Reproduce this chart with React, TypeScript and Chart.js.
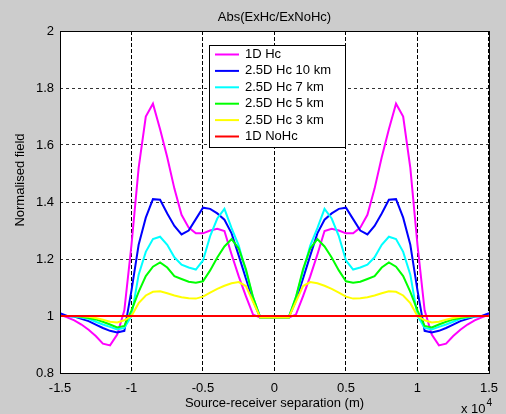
import React, { useEffect, useRef } from "react";
import { Chart, registerables } from "chart.js";

Chart.register(...registerables);

// Source-receiver separation (m)
const separations = [
  -15000, -14500, -14000, -13500, -13000, -12500, -12000, -11500, -11000, -10500,
  -10000, -9500, -9000, -8500, -8000, -7500, -7000, -6500, -6000, -5500,
  -5000, -4500, -4000, -3500, -3000, -2500, -2000, -1500, -1000, -500,
  0,
  500, 1000, 1500, 2000, 2500, 3000, 3500, 4000, 4500, 5000,
  5500, 6000, 6500, 7000, 7500, 8000, 8500, 9000, 9500, 10000,
  10500, 11000, 11500, 12000, 12500, 13000, 13500, 14000, 14500, 15000,
];

const hc1D = [
  1.005, 0.995, 0.985, 0.97, 0.952, 0.93, 0.903, 0.897, 0.935, 1.02,
  1.25, 1.52, 1.7, 1.745, 1.655, 1.557, 1.447, 1.355, 1.31, 1.29,
  1.29, 1.3, 1.306, 1.298, 1.216, 1.139, 1.07, 1.005, 0.995, 0.995,
  0.995,
  0.995, 0.995, 1.005, 1.07, 1.139, 1.216, 1.298, 1.306, 1.3, 1.29,
  1.29, 1.31, 1.355, 1.447, 1.557, 1.655, 1.745, 1.7, 1.52, 1.25,
  1.02, 0.935, 0.897, 0.903, 0.93, 0.952, 0.97, 0.985, 0.995, 1.005,
];

const hc25D10km = [
  1.01, 1.0, 0.998, 0.99, 0.982, 0.97, 0.958, 0.948, 0.942, 0.948,
  1.09, 1.25, 1.345, 1.41, 1.408, 1.36, 1.316, 1.286, 1.3, 1.34,
  1.38, 1.376, 1.36, 1.338, 1.29, 1.212, 1.132, 1.055, 0.995, 0.995,
  0.995,
  0.995, 0.995, 1.055, 1.132, 1.212, 1.29, 1.338, 1.36, 1.376, 1.38,
  1.34, 1.3, 1.286, 1.316, 1.36, 1.408, 1.41, 1.345, 1.25, 1.09,
  0.948, 0.942, 0.948, 0.958, 0.97, 0.982, 0.99, 0.998, 1.0, 1.01,
];

const hc25D7km = [
  1.0, 1.0, 0.998, 0.995, 0.99, 0.98, 0.97, 0.962, 0.953, 0.958,
  1.0, 1.145, 1.225, 1.27, 1.278, 1.25, 1.206, 1.18, 1.17, 1.163,
  1.195, 1.28, 1.342, 1.376, 1.308, 1.247, 1.157, 1.066, 0.995, 0.995,
  0.995,
  0.995, 0.995, 1.066, 1.157, 1.247, 1.308, 1.376, 1.342, 1.28, 1.195,
  1.163, 1.17, 1.18, 1.206, 1.25, 1.278, 1.27, 1.225, 1.145, 1.0,
  0.958, 0.953, 0.962, 0.97, 0.98, 0.99, 0.995, 0.998, 1.0, 1.0,
];

const hc25D5km = [
  1.0, 1.0, 1.0, 0.997, 0.993, 0.988, 0.98, 0.97, 0.96, 0.965,
  1.02, 1.085, 1.14, 1.173, 1.188, 1.17, 1.14, 1.13, 1.12, 1.117,
  1.122, 1.16, 1.205, 1.244, 1.27, 1.237, 1.165, 1.066, 0.995, 0.995,
  0.995,
  0.995, 0.995, 1.066, 1.165, 1.237, 1.27, 1.244, 1.205, 1.16, 1.122,
  1.117, 1.12, 1.13, 1.14, 1.17, 1.188, 1.173, 1.14, 1.085, 1.02,
  0.965, 0.96, 0.97, 0.98, 0.988, 0.993, 0.997, 1.0, 1.0, 1.0,
];

const hc25D3km = [
  1.0, 1.0, 1.0, 0.999, 0.997, 0.993, 0.987, 0.98, 0.977, 0.985,
  1.0, 1.045, 1.072, 1.085, 1.087, 1.08, 1.072, 1.066, 1.062, 1.061,
  1.068, 1.082, 1.095, 1.106, 1.115, 1.119, 1.105, 1.05, 0.995, 0.995,
  0.995,
  0.995, 0.995, 1.05, 1.105, 1.119, 1.115, 1.106, 1.095, 1.082, 1.068,
  1.061, 1.062, 1.066, 1.072, 1.08, 1.087, 1.085, 1.072, 1.045, 1.0,
  0.985, 0.977, 0.98, 0.987, 0.993, 0.997, 0.999, 1.0, 1.0, 1.0,
];

const noHc1D = [
  1, 1, 1, 1, 1, 1, 1, 1, 1, 1,
  1, 1, 1, 1, 1, 1, 1, 1, 1, 1,
  1, 1, 1, 1, 1, 1, 1, 1, 1, 1,
  1,
  1, 1, 1, 1, 1, 1, 1, 1, 1, 1,
  1, 1, 1, 1, 1, 1, 1, 1, 1, 1,
  1, 1, 1, 1, 1, 1, 1, 1, 1, 1,
];

const seriesLabels = ["1D Hc", "2.5D Hc 10 km", "2.5D Hc 7 km", "2.5D Hc 5 km", "2.5D Hc 3 km", "1D NoHc"];
const seriesValues = [hc1D, hc25D10km, hc25D7km, hc25D5km, hc25D3km, noHc1D];
const seriesColors = ["#ff00ff", "#0000ff", "#00ffff", "#00ff00", "#ffff00", "#ff0000"];

const titleText = "Abs(ExHc/ExNoHc)";
const xTitle = "Source-receiver separation (m)";
const yTitle = "Normalised field";
const xMultiplier = "x 10";
const xExponent = "4";

const FONT = '"Liberation Sans", Arial, Helvetica, sans-serif';
const BG = "rgb(204,204,204)";

const decorPlugin = {
  id: "decor",
  beforeDraw(chart: any) {
    const { ctx, chartArea: a, width, height } = chart;
    ctx.save();
    ctx.fillStyle = BG;
    ctx.fillRect(0, 0, width, height);
    ctx.fillStyle = "#ffffff";
    ctx.fillRect(a.left, a.top, a.right - a.left, a.bottom - a.top);
    ctx.restore();
  },
  afterDraw(chart: any) {
    const { ctx, chartArea: a } = chart;
    ctx.save();
    // axes box
    ctx.strokeStyle = "#000";
    ctx.lineWidth = 1;
    ctx.setLineDash([]);
    ctx.strokeRect(a.left + 0.5, a.top + 0.5, a.right - a.left, a.bottom - a.top);

    ctx.fillStyle = "#000";
    ctx.font = `13px ${FONT}`;
    ctx.textAlign = "center";
    ctx.textBaseline = "middle";
    const cx = (a.left + a.right) / 2;
    ctx.fillText(titleText, cx, 17);
    ctx.fillText(xTitle, cx, 403);

    ctx.save();
    ctx.translate(20, 180);
    ctx.rotate(-Math.PI / 2);
    ctx.fillText(yTitle, 0, 0);
    ctx.restore();

    ctx.textAlign = "left";
    ctx.textBaseline = "alphabetic";
    ctx.fillText(xMultiplier, 461, 413);
    const mw = ctx.measureText(xMultiplier).width;
    ctx.font = `10px ${FONT}`;
    ctx.fillText(xExponent, 461 + mw + 1, 406);

    // legend
    const lx = 209, ly = 45, lw = 136, lh = 102;
    ctx.fillStyle = "#fff";
    ctx.fillRect(lx, ly, lw, lh);
    ctx.strokeStyle = "#000";
    ctx.lineWidth = 1;
    ctx.strokeRect(lx + 0.5, ly + 0.5, lw, lh);
    ctx.font = `13px ${FONT}`;
    ctx.textBaseline = "middle";
    chart.data.datasets.forEach((ds: any, i: number) => {
      const y = 54.5 + i * 16.4;
      ctx.strokeStyle = ds.borderColor;
      ctx.lineWidth = 2;
      ctx.beginPath();
      ctx.moveTo(215, y);
      ctx.lineTo(239, y);
      ctx.stroke();
      ctx.fillStyle = "#000";
      ctx.fillText(ds.label, 245, y);
    });
    ctx.restore();
  },
};

export default function App() {
  const ref = useRef<HTMLCanvasElement | null>(null);

  useEffect(() => {
    document.body.style.margin = "0";
    const canvas = ref.current;
    if (!canvas) return;
    const chart = new Chart(canvas, {
      type: "line",
      data: {
        datasets: seriesLabels.map((label, i) => ({
          label,
          data: separations.map((x, j) => ({ x, y: seriesValues[i][j] })),
          borderColor: seriesColors[i],
          backgroundColor: seriesColors[i],
          borderWidth: 2,
          pointRadius: 0,
          tension: 0,
          fill: false,
          order: seriesLabels.length - i,
        })),
      },
      options: {
        responsive: false,
        animation: false,
        events: [],
        layout: { padding: { top: 31, right: 12, left: 0, bottom: 0 } },
        plugins: {
          legend: { display: false },
          title: { display: false },
          tooltip: { enabled: false },
        },
        scales: {
          x: {
            type: "linear",
            min: -15000,
            max: 15000,
            border: { display: false, dash: [4, 2] },
            grid: {
              color: "#000",
              lineWidth: 1,
              drawTicks: false,
            },
            ticks: {
              stepSize: 5000,
              padding: 8,
              color: "#000",
              font: { family: FONT, size: 13 },
              maxRotation: 0,
              callback: (v: any) => String(Number(v) / 10000),
            },
            afterFit: (s: any) => {
              s.height = 41;
            },
          },
          y: {
            min: 0.8,
            max: 2,
            border: { display: false, dash: [3, 3] },
            grid: {
              color: "#333",
              lineWidth: 1,
              drawTicks: false,
            },
            ticks: {
              stepSize: 0.2,
              padding: 6,
              color: "#000",
              font: { family: FONT, size: 13 },
              callback: (v: any) => String(Number(Number(v).toFixed(1))),
            },
            afterFit: (s: any) => {
              s.width = 60;
            },
          },
        },
      },
      plugins: [decorPlugin],
    });
    return () => chart.destroy();
  }, []);

  return (
    <div style={{ position: "absolute", left: 0, top: 0, width: 506, height: 414 }}>
      <canvas ref={ref} width={506} height={414} style={{ display: "block" }} />
    </div>
  );
}
